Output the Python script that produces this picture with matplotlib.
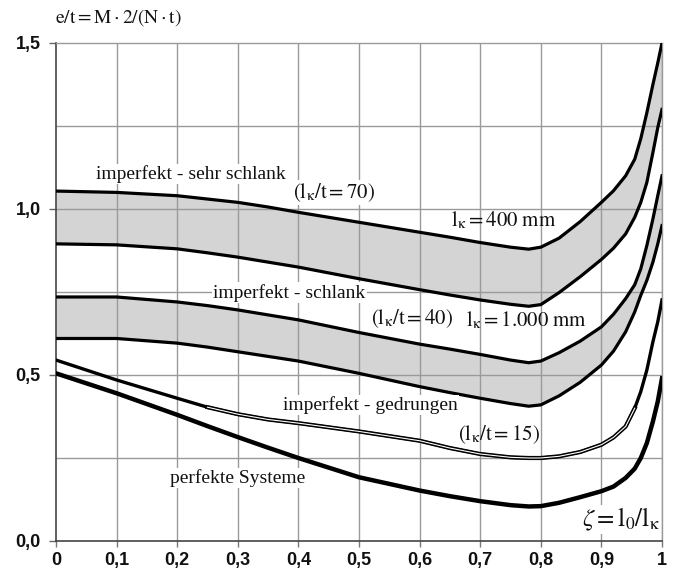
import numpy as np
import matplotlib
matplotlib.use("Agg")
import matplotlib.pyplot as plt

plt.rcParams['mathtext.fontset'] = 'stix'

x = [0, 0.1, 0.2, 0.25, 0.3, 0.35, 0.4, 0.5, 0.6, 0.65, 0.7, 0.75, 0.78, 0.8, 0.83, 0.865,
     0.9, 0.92, 0.94, 0.955, 0.965, 0.975, 0.985, 0.993, 1.0]

sehr_schlank_400 = [1.054, 1.05, 1.04, 1.03, 1.02, 1.006, 0.99, 0.96, 0.93, 0.915, 0.899, 0.885, 0.879, 0.885, 0.912, 0.962,
                    1.02, 1.055, 1.10, 1.15, 1.212, 1.29, 1.375, 1.44, 1.5]
sehr_schlank_1000 = [0.895, 0.892, 0.88, 0.868, 0.855, 0.84, 0.825, 0.79, 0.757, 0.741, 0.726, 0.713, 0.707, 0.712, 0.748, 0.796,
                     0.848, 0.882, 0.925, 0.975, 1.02, 1.08, 1.17, 1.245, 1.30]
schlank_400 = [0.735, 0.735, 0.72, 0.709, 0.696, 0.681, 0.666, 0.628, 0.593, 0.578, 0.562, 0.545, 0.537, 0.542, 0.567, 0.602,
               0.645, 0.683, 0.73, 0.772, 0.82, 0.89, 0.97, 1.04, 1.10]
schlank_1000 = [0.61, 0.61, 0.596, 0.584, 0.57, 0.556, 0.542, 0.505, 0.465, 0.447, 0.43, 0.414, 0.406, 0.41, 0.437, 0.478,
                0.53, 0.572, 0.63, 0.69, 0.74, 0.785, 0.84, 0.895, 0.95]
gedrungen = [0.545, 0.485, 0.43, 0.403, 0.382, 0.366, 0.355, 0.33, 0.302, 0.28, 0.262, 0.252, 0.25, 0.25, 0.255, 0.268,
             0.29, 0.312, 0.345, 0.40, 0.45, 0.515, 0.60, 0.66, 0.726]
perfekt = [0.505, 0.445, 0.38, 0.346, 0.313, 0.281, 0.25, 0.192, 0.152, 0.135, 0.12, 0.108, 0.104, 0.105, 0.115, 0.132,
           0.15, 0.164, 0.19, 0.218, 0.25, 0.295, 0.36, 0.42, 0.49]

xticks = [0, 0.1, 0.2, 0.3, 0.4, 0.5, 0.6, 0.7, 0.8, 0.9, 1.0]
xticklabels = ["0", "0,1", "0,2", "0,3", "0,4", "0,5", "0,6", "0,7", "0,8", "0,9", "1"]
yticks = [0.0, 0.5, 1.0, 1.5]
yticklabels = ["0,0", "0,5", "1,0", "1,5"]
ygrid = [0.25, 0.5, 0.75, 1.0, 1.25]

fig = plt.figure(figsize=(6.79, 5.79), dpi=100)
ax = fig.add_axes([56/679, 1-541/579, 606/679, (541-43)/579])

xa = np.array(x)
fill_col = '#d4d4d4'
ax.fill_between(xa, sehr_schlank_1000, sehr_schlank_400, color=fill_col, lw=0, zorder=1)
ax.fill_between(xa, schlank_1000, schlank_400, color=fill_col, lw=0, zorder=1)

lw = 2.3
for ys in [sehr_schlank_400, sehr_schlank_1000, schlank_400, schlank_1000]:
    ax.plot(xa, ys, color='black', lw=lw, zorder=3, solid_joinstyle='round')
ax.plot(xa, gedrungen, color='black', lw=2.4, zorder=3, solid_joinstyle='round')
gmask = (xa < 0.25) | (xa > 0.955)
g = np.ma.masked_where(gmask, np.array(gedrungen))
ax.plot(xa, g, color='black', lw=3.0, zorder=3, solid_joinstyle='round')
ax.plot(xa, g, color='white', lw=0.8, zorder=4, solid_joinstyle='round')
ax.plot(xa, perfekt, color='black', lw=3.2, zorder=3, solid_joinstyle='round')

ax.set_xlim(0, 1)
ax.set_ylim(0, 1.5)
for xv in xticks[1:]:
    ax.axvline(xv, color='#9a9a9a', lw=1.0, zorder=1.5)
for yv in ygrid:
    ax.axhline(yv, color='#9a9a9a', lw=1.0, zorder=1.5)

ax.set_xticks(xticks)
ax.set_xticklabels(xticklabels)
ax.set_yticks(yticks)
ax.set_yticklabels(yticklabels)
ax.tick_params(axis='x', direction='out', length=4, width=1, color='#777777', pad=4)
ax.tick_params(axis='y', direction='out', length=5, width=1, color='#666666', pad=6)
for lab in ax.get_xticklabels() + ax.get_yticklabels():
    lab.set_fontfamily('Liberation Sans')
    lab.set_fontweight('bold')
    lab.set_fontsize(13)
    lab.set_color('#111111')

for s in ['top', 'right']:
    ax.spines[s].set_color('#9a9a9a')
    ax.spines[s].set_linewidth(1.0)
for s in ['left', 'bottom']:
    ax.spines[s].set_color('#444444')
    ax.spines[s].set_linewidth(1.2)

serif = 'Liberation Serif'
box = dict(facecolor='white', edgecolor='none', pad=1.0)
tfs = 14
mfs = 15

def lab(xv, yv, s, fs=tfs, bbox=True, ha='center'):
    ax.text(xv, yv, s, fontsize=fs, family=serif, ha=ha, va='center', zorder=5,
            bbox=box if bbox else None, color='#111111')

K = r'\mathrm{l}_{\mathrm{κ}}'
lab(0.223, 1.105, 'imperfekt - sehr schlank')
lab(0.458, 1.05, r'$(' + K + r'/\mathrm{t} = 70)$', fs=mfs)
lab(0.738, 0.965, r'$' + K + r' = 400\ \mathrm{mm}$', fs=mfs, bbox=False)
lab(0.385, 0.748, 'imperfekt - schlank')
lab(0.588, 0.670, r'$(' + K + r'/\mathrm{t} = 40)$', fs=mfs, bbox=False)
lab(0.776, 0.665, r'$' + K + r' = 1.000\ \mathrm{mm}$', fs=mfs, bbox=False)
lab(0.518, 0.410, 'imperfekt - gedrungen')
lab(0.731, 0.320, r'$(' + K + r'/\mathrm{t} = 15)$', fs=mfs, bbox=False)
lab(0.30, 0.190, 'perfekte Systeme')
ax.text(0.996, 0.065, r'$\zeta = \mathrm{l}_0/' + K + r'$', fontsize=18, ha='right', va='center',
        zorder=5, bbox=dict(facecolor='white', edgecolor='none', pad=0.5), color='#111111')

fig.text(55/679, 1-18/579, r'$\mathrm{e/t = M \cdot 2/(N \cdot t)}$', fontsize=14, ha='left', va='center', color='#111111')

fig.savefig('out.png', dpi=100)
